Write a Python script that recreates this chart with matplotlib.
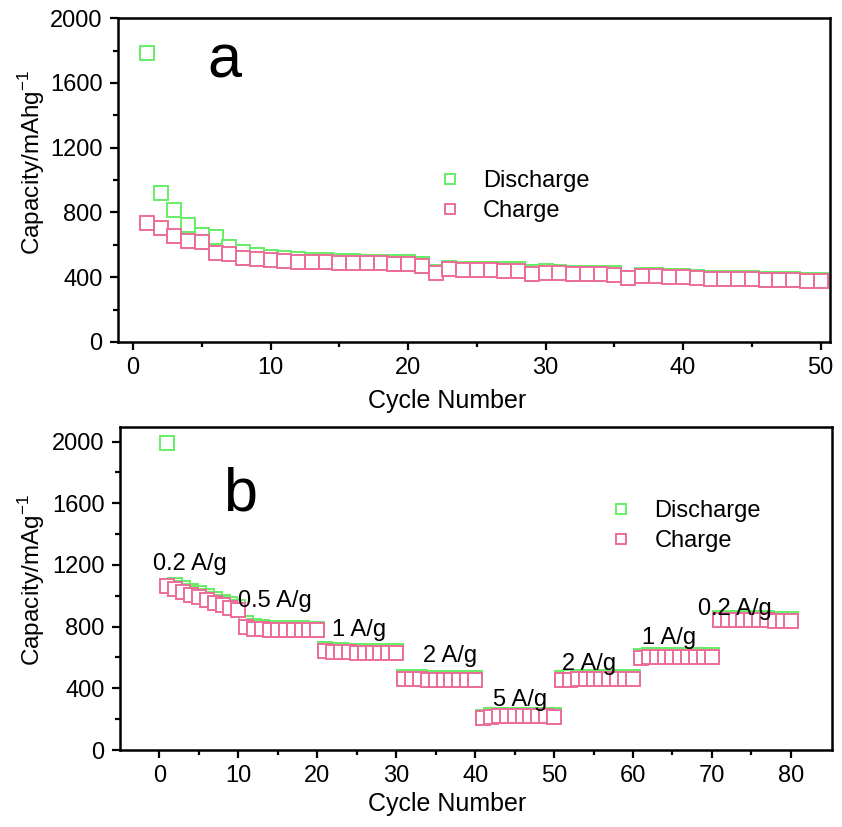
import numpy as np
import matplotlib.pyplot as plt

plt.rcParams['font.family'] = ['Liberation Sans', 'DejaVu Sans']
plt.rcParams['mathtext.fontset'] = 'custom'
plt.rcParams['mathtext.rm'] = 'Liberation Sans'

green = '#66ee66'
pink = '#ec6c9a'

# panel a: cycling at constant current
cyc_a = np.arange(1, 51)
dis_a = [1783, 918, 813, 720, 660, 646, 585, 555, 538, 526,
         516, 510, 506, 504, 502, 500, 497, 495, 492, 491,
         481, 430, 458, 453, 452, 451, 448, 448, 430, 436,
         435, 427, 426, 428, 428, 398, 414, 413, 410, 409,
         404, 397, 394, 393, 393, 389, 389, 391, 384, 384]
chg_a = [732, 707, 656, 623, 618, 552, 545, 516, 510, 508,
         500, 496, 492, 492, 490, 489, 486, 485, 480, 480,
         469, 425, 450, 445, 444, 444, 440, 440, 422, 428,
         428, 418, 418, 420, 414, 393, 407, 407, 403, 403,
         397, 390, 387, 387, 387, 382, 382, 385, 376, 376]

# panel b: rate capability
cyc_b = np.arange(1, 81)
dis_b = [1989, 1072, 1052, 1034, 1016, 998, 980, 962, 946, 928,
         825, 805, 795, 793, 792, 790, 790, 789, 788, 788,
         652, 648, 646, 645, 644, 644, 643, 642, 642, 642,
         476, 473, 471, 470, 469, 468, 468, 467, 467, 466,
         214, 227, 229, 230, 230, 229, 229, 228, 228, 227,
         470, 471, 472, 472, 473, 473, 473, 474, 474, 474,
         612, 616, 617, 618, 618, 618, 617, 617, 616, 616,
         858, 856, 855, 855, 854, 853, 853, 852, 851, 851]
chg_b = [1062, 1045, 1025, 1008, 990, 972, 953, 938, 922, 905,
         795, 785, 782, 780, 780, 778, 778, 777, 776, 776,
         640, 636, 634, 633, 632, 632, 631, 630, 630, 630,
         462, 460, 458, 457, 456, 455, 455, 454, 454, 453,
         205, 216, 219, 220, 220, 219, 219, 218, 218, 217,
         455, 457, 458, 458, 459, 459, 459, 460, 460, 460,
         595, 602, 603, 604, 604, 604, 603, 603, 602, 602,
         845, 843, 842, 842, 841, 840, 840, 839, 838, 838]

rate_labels = ['0.2 A/g', '0.5 A/g', '1 A/g', '2 A/g', '5 A/g', '2 A/g', '1 A/g', '0.2 A/g']
rate_x = [-0.8, 9.9, 21.9, 33.4, 42.3, 51.0, 61.1, 68.2]
rate_y = [1205, 965, 777, 608, 322, 556, 725, 913]

fig = plt.figure(figsize=(8.42, 8.27), dpi=100)
ax1 = fig.add_axes([0.140, 0.5865, 0.846, 0.3915])
ax2 = fig.add_axes([0.1425, 0.0931, 0.8455, 0.3906])

ms = 9.5
mew = 1.4


def style(ax):
    for s in ax.spines.values():
        s.set_linewidth(1.8)
    ax.tick_params(which='both', direction='out', top=False, right=False,
                   width=1.6, labelsize=17)
    ax.tick_params(which='major', length=6, pad=5)
    ax.tick_params(which='minor', length=3.5)


# panel a
ax1.plot(cyc_a, dis_a, 's', ms=ms, mfc='white', mec=green, mew=mew, label='Discharge')
ax1.plot(cyc_a, chg_a, 's', ms=ms, mfc='white', mec=pink, mew=mew, label='Charge')
ax1.set_xlim(-1.1, 50.7)
ax1.set_ylim(0, 2000)
ax1.set_xticks(np.arange(0, 51, 10))
ax1.set_xticks(np.arange(0, 51, 5), minor=True)
ax1.set_yticks(np.arange(0, 2001, 400))
ax1.set_yticks(np.arange(0, 2001, 200), minor=True)
style(ax1)
ax1.set_xlabel('Cycle Number', fontsize=18)
ax1.set_ylabel(r'Capacity/mAhg$^{\mathrm{-1}}$', fontsize=17.5)
ax1.xaxis.set_label_coords(0.462, -0.145)
ax1.yaxis.set_label_coords(-0.10, 0.556)
ax1.text(5.4, 1635, 'a', fontsize=44, va='baseline', ha='left')
ax1.legend(loc='upper left', bbox_to_anchor=(0.413, 0.597), frameon=False,
           fontsize=17, markerscale=0.8, handlelength=1.4, handletextpad=0.7,
           labelspacing=0.35, numpoints=1)

# panel b
ax2.plot(cyc_b, dis_b, 's', ms=ms, mfc='white', mec=green, mew=mew, label='Discharge')
ax2.plot(cyc_b, chg_b, 's', ms=ms, mfc='white', mec=pink, mew=mew, label='Charge')
ax2.set_xlim(-5, 85.2)
ax2.set_ylim(0, 2095)
ax2.set_xticks(np.arange(0, 81, 10))
ax2.set_xticks(np.arange(0, 81, 5), minor=True)
ax2.set_yticks(np.arange(0, 2001, 400))
ax2.set_yticks(np.arange(0, 2001, 200), minor=True)
style(ax2)
ax2.set_xlabel('Cycle Number', fontsize=18)
ax2.set_ylabel(r'Capacity/mAg$^{\mathrm{-1}}$', fontsize=17.5)
ax2.xaxis.set_label_coords(0.46, -0.13)
ax2.yaxis.set_label_coords(-0.1025, 0.526)
ax2.text(8.0, 1556, 'b', fontsize=44, va='baseline', ha='left')
for lab, x, y in zip(rate_labels, rate_x, rate_y):
    ax2.text(x, y, lab, fontsize=17, ha='left', va='center')
ax2.legend(loc='upper left', bbox_to_anchor=(0.651, 0.84), frameon=False,
           fontsize=17, markerscale=0.8, handlelength=1.4, handletextpad=0.7,
           labelspacing=0.35, numpoints=1)

fig.savefig('out.png', dpi=100)
